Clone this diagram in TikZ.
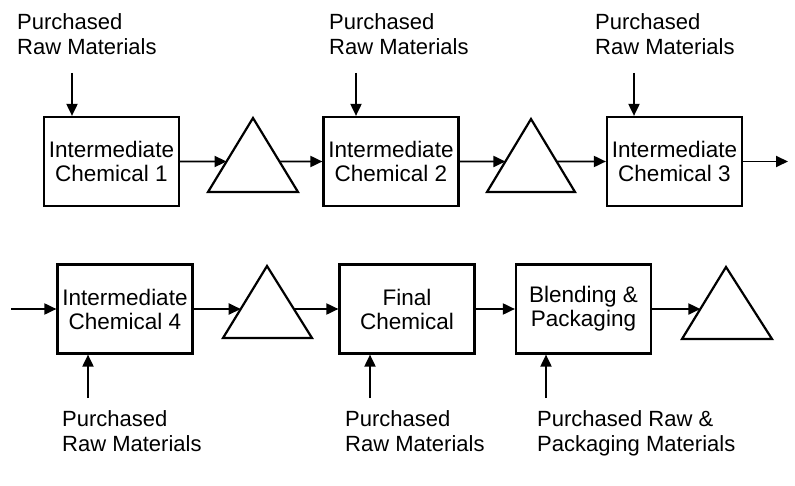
\documentclass[tikz,border=0pt]{standalone}
\usepackage{fontspec}
\setmainfont{Liberation Sans}
\usetikzlibrary{arrows.meta}
\begin{document}
\begin{tikzpicture}[x=1pt,y=-1pt,
  box/.style={draw, line width=2.2pt, minimum width=135pt, minimum height=89pt, align=center, inner sep=0pt, font=\fontsize{22.5}{24}\selectfont},
  lbl/.style={anchor=north west, align=left, inner sep=0pt, font=\fontsize{22}{25}\selectfont},
  arr/.style={line width=1.9pt, -{Triangle[length=12pt,width=11pt]}},
  tri/.style={line width=2.2pt, line join=miter}]
\useasboundingbox (0,0) rectangle (795,486);

% top row boxes
\node[box] (b1) at (111.5,161.5) {Intermediate\\Chemical 1};
\node[box] (b2) at (391,161.5) {Intermediate\\Chemical 2};
\node[box] (b3) at (674.5,161.5) {Intermediate\\Chemical 3};
% bottom row boxes
\node[box] (b4) at (125,309) {Intermediate\\Chemical 4};
\node[box] (b5) at (407,309) {Final\\Chemical};
\node[box] (b6) at (583.5,309) {Blending \&\\Packaging};

% triangles
\coordinate (t1a) at (253,118); \coordinate (t1l) at (208,192); \coordinate (t1r) at (298,192);
\coordinate (t2a) at (531,119); \coordinate (t2l) at (487,192); \coordinate (t2r) at (575,192);
\coordinate (t3a) at (267,266); \coordinate (t3l) at (223,338); \coordinate (t3r) at (312,338);
\coordinate (t4a) at (726,267); \coordinate (t4l) at (682,339); \coordinate (t4r) at (772,339);
\draw[tri] (t1l) -- (t1a) -- (t1r) -- cycle;
\draw[tri] (t2l) -- (t2a) -- (t2r) -- cycle;
\draw[tri] (t3l) -- (t3a) -- (t3r) -- cycle;
\draw[tri] (t4l) -- (t4a) -- (t4r) -- cycle;

% labels
\node[lbl] (l1) at (17,13) {Purchased\\Raw Materials};
\node[lbl] (l2) at (329,13) {Purchased\\Raw Materials};
\node[lbl] (l3) at (595,13) {Purchased\\Raw Materials};
\node[lbl] (l4) at (62,410) {Purchased\\Raw Materials};
\node[lbl] (l5) at (345,410) {Purchased\\Raw Materials};
\node[lbl] (l6) at (537,410) {Purchased Raw \&\\Packaging Materials};

% top row flow
\draw[arr] (b1.east) -- (intersection of b1.east--b2.west and t1l--t1a);
\draw[arr] (intersection of b1.east--b2.west and t1a--t1r) -- (b2.west);
\draw[arr] (b2.east) -- (intersection of b2.east--b3.west and t2l--t2a);
\draw[arr] (intersection of b2.east--b3.west and t2a--t2r) -- (b3.west);
\coordinate (out3) at (788,161.5);
\draw[arr] (b3.east) -- (out3);

% bottom row flow
\coordinate (in4) at (11,309);
\draw[arr] (in4) -- (b4.west);
\draw[arr] (b4.east) -- (intersection of b4.east--b5.west and t3l--t3a);
\draw[arr] (intersection of b4.east--b5.west and t3a--t3r) -- (b5.west);
\draw[arr] (b5.east) -- (b6.west);
\coordinate (e6) at (700,309);
\draw[arr] (b6.east) -- (intersection of b6.east--e6 and t4l--t4a);

% feed arrows
\coordinate (s1) at (72,73);
\coordinate (s2) at (356,73);
\coordinate (s3) at (634,73);
\draw[arr] (s1) -- (s1 |- b1.north);
\draw[arr] (s2) -- (s2 |- b2.north);
\draw[arr] (s3) -- (s3 |- b3.north);
\coordinate (s4) at (88,398);
\coordinate (s5) at (370,398);
\coordinate (s6) at (546,398);
\draw[arr] (s4) -- (s4 |- b4.south);
\draw[arr] (s5) -- (s5 |- b5.south);
\draw[arr] (s6) -- (s6 |- b6.south);
\end{tikzpicture}
\end{document}
